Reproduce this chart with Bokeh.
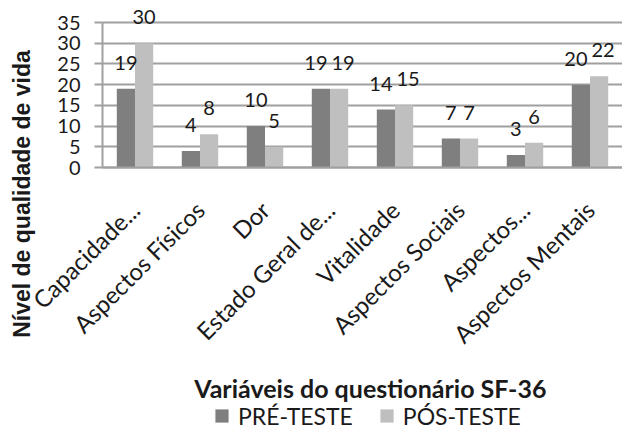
import math
from bokeh.plotting import figure
from bokeh.models import (ColumnDataSource, LabelSet, Label, Legend, LegendItem,
                          FixedTicker, Range1d)
from bokeh.core.properties import value
from bokeh.transform import dodge
from bokeh.embed import file_html
from bokeh.resources import INLINE

categories = ["Capacidade...", "Aspectos Físicos", "Dor", "Estado Geral de...",
              "Vitalidade", "Aspectos Sociais", "Aspectos...", "Aspectos Mentais"]
pre_teste = [19, 4, 10, 19, 14, 7, 3, 20]
pos_teste = [30, 8, 5, 19, 15, 7, 6, 22]
y_ticks = [0, 5, 10, 15, 20, 25, 30, 35]

FONT = "Lato"
DARK = "#7f7f7f"
LIGHT = "#bfbfbf"
GRID = "#a0a0a0"
TXT = "#1a1a1a"

n = len(categories)
centers = [i + 0.5 for i in range(n)]

# push apart value labels that would collide (two-digit labels at similar height)
collide = [a >= 10 and b >= 10 and abs(a - b) < 5 for a, b in zip(pre_teste, pos_teste)]
src = ColumnDataSource(dict(xc=centers, pre=pre_teste, pos=pos_teste,
                            pre_t=[str(v) for v in pre_teste],
                            pos_t=[str(v) for v in pos_teste],
                            pre_dx=[-5 if c else 0 for c in collide],
                            pos_dx=[4 if c else 0 for c in collide]))

W, H = 622, 432
PX_X = 65.0            # px per category
PX_Y = 145.0 / 35.0    # px per value unit
x0 = n - W / PX_X
y_top = 167 / PX_Y
y_bot = -(H - 167) / PX_Y

p = figure(x_range=Range1d(x0, n), y_range=Range1d(y_bot, y_top),
           width=W, height=H, output_backend="svg", toolbar_location=None,
           min_border=0, outline_line_color=None)
p.background_fill_color = "white"

r1 = p.vbar(x=dodge("xc", -0.14), top="pre", width=0.28,
            source=src, fill_color=DARK, line_color=None)
r2 = p.vbar(x=dodge("xc", 0.14), top="pos", width=0.28,
            source=src, fill_color=LIGHT, line_color=None)

for col, off in (("pre", -0.14), ("pos", 0.14)):
    p.add_layout(LabelSet(x=dodge("xc", off), y=col, text=col + "_t",
                          source=src, text_align="center", text_baseline="alphabetic",
                          x_offset=col + "_dx", y_offset=19,
                          text_font=value(FONT), text_font_size=value("20px"),
                          text_color=TXT))

# legend swatches: square markers of size 0 on the plot (only the legend shows them)
k1 = p.scatter(x=dodge("xc", -0.14), y="pre", source=src, marker="square", size=0,
               fill_color=DARK, line_color=None)
k2 = p.scatter(x=dodge("xc", 0.14), y="pos", source=src, marker="square", size=0,
               fill_color=LIGHT, line_color=None)

# y axis (inside frame, at x=0)
p.yaxis.fixed_location = 0
p.yaxis.ticker = FixedTicker(ticks=y_ticks)
p.yaxis.bounds = (0, 35)
p.yaxis.minor_tick_line_color = None
p.yaxis.major_tick_in = 0
p.yaxis.major_tick_out = 8
p.yaxis.major_tick_line_color = GRID
p.yaxis.major_tick_line_width = 2
p.yaxis.axis_line_color = GRID
p.yaxis.axis_line_width = 2
p.yaxis.major_label_text_font = FONT
p.yaxis.major_label_text_font_size = "20px"
p.yaxis.major_label_text_color = TXT
p.yaxis.major_label_standoff = 14

p.ygrid.ticker = FixedTicker(ticks=y_ticks)
p.ygrid.grid_line_color = GRID
p.ygrid.grid_line_width = 2
p.ygrid.cross_bounds = (0, n)
p.xgrid.grid_line_color = None

# x axis (inside frame, at y=0)
p.xaxis.fixed_location = 0
p.xaxis.bounds = (0, n)
p.xaxis.ticker = FixedTicker(ticks=centers)
p.xaxis.major_label_overrides = {c: name for c, name in zip(centers, categories)}
p.xaxis.minor_tick_line_color = None
p.xaxis.major_tick_line_color = None
p.xaxis.major_tick_out = 0
p.xaxis.major_tick_in = 0
p.xaxis.axis_line_color = GRID
p.xaxis.axis_line_width = 2
p.xaxis.major_label_orientation = math.pi / 4
p.xaxis.major_label_text_font = FONT
p.xaxis.major_label_text_font_size = "24px"
p.xaxis.major_label_text_color = TXT
p.xaxis.major_label_standoff = 38

# axis titles
p.add_layout(Label(x=n / 2 + 0.12, y=-53.3, text="Variáveis do questionário SF-36",
                   text_align="center", text_baseline="middle",
                   text_font=FONT, text_font_size="25px", text_font_style="bold",
                   text_color=TXT))
p.add_layout(Label(x=x0 + 21 / PX_X, y=-6.4, text="Nível de qualidade de vida",
                   angle=math.pi / 2, text_align="center", text_baseline="middle",
                   text_font="Liberation Sans", text_font_size="23px",
                   text_font_style="bold", text_color=TXT))

legend = Legend(items=[LegendItem(label="PRÉ-TESTE", renderers=[k1]),
                       LegendItem(label="PÓS-TESTE", renderers=[k2])],
                orientation="horizontal", location=(205, 0),
                border_line_color=None, background_fill_alpha=0,
                label_text_font=FONT, label_text_font_size="23px",
                label_text_color=TXT, glyph_width=33, glyph_height=33,
                label_height=13, label_standoff=0, spacing=17, padding=0, margin=0)
p.add_layout(legend, "center")

open("out.html", "w").write(file_html(p, INLINE))
